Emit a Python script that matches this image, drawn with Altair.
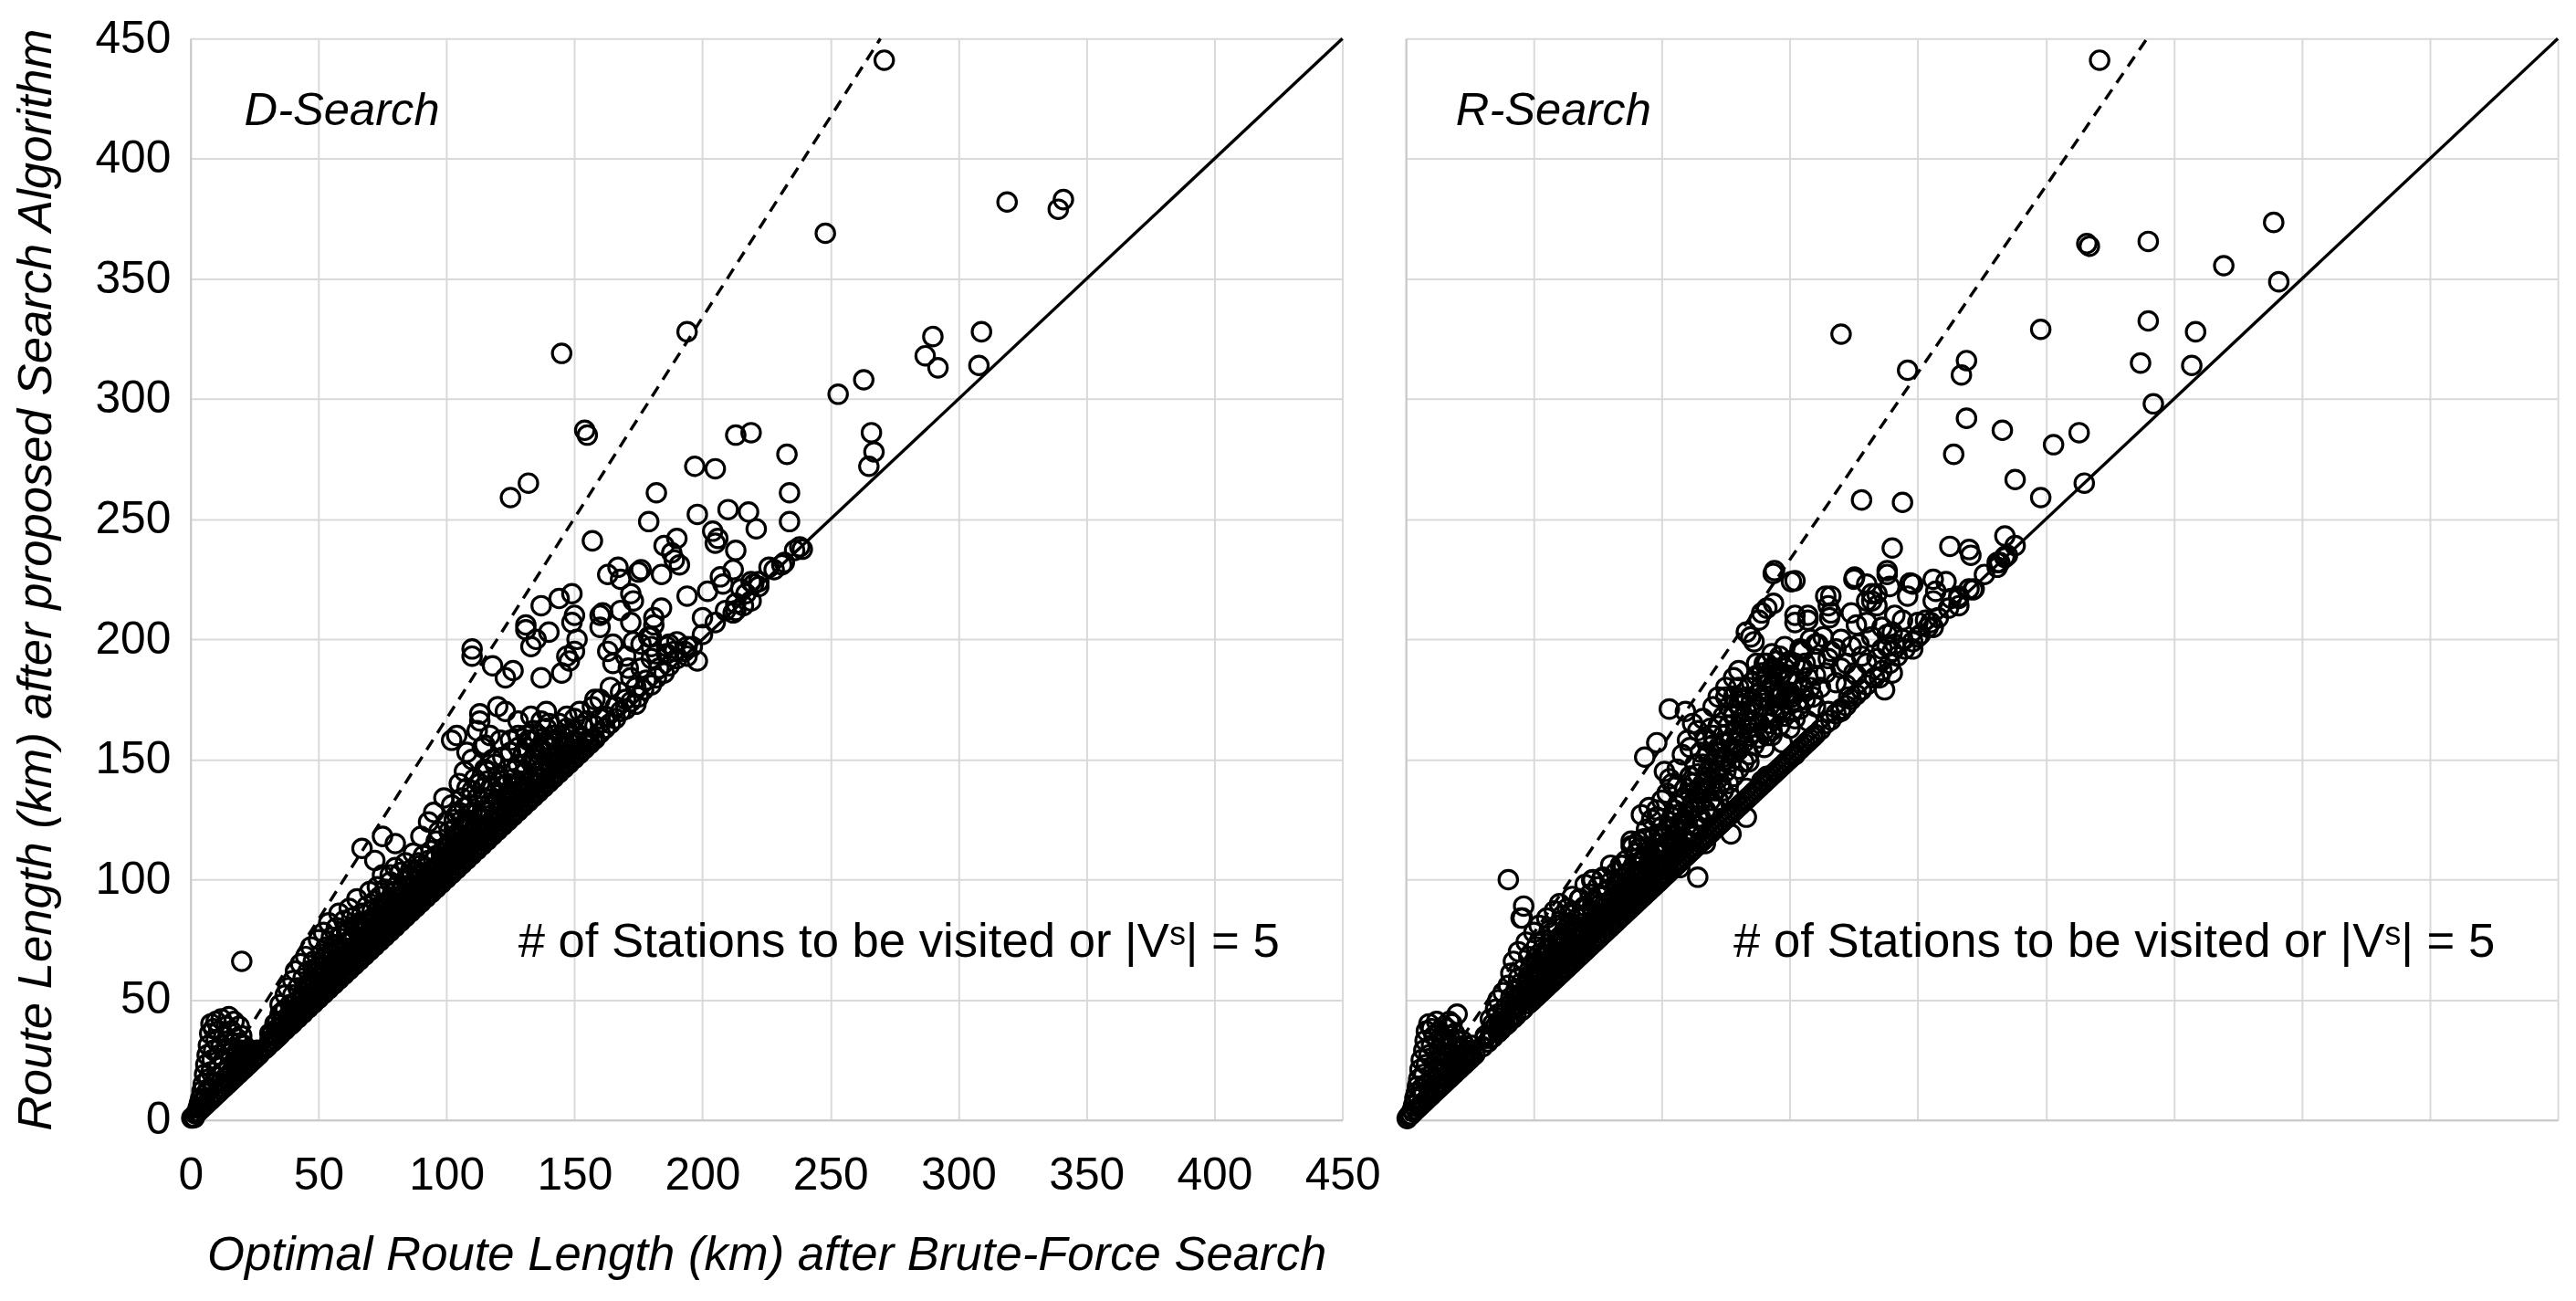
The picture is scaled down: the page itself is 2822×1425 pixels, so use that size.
import altair as alt
import pandas as pd

# ---------------- data ----------------
tick_values = [0, 50, 100, 150, 200, 250, 300, 350, 400, 450]

# D-Search panel: (optimal length, proposed length)
d_points = [
    # cluster near origin
    (0.5,0.8),(1,1.2),(1.5,1.0),(2,2.5),(2.5,3),(3,3.5),(3,5),(3.5,7),(4,4.5),(4,9),(4.5,12),(5,5.5),(5,8),(5,15),
    (5.5,19),(6,6.5),(6,11),(6,23),(6.5,27),(7,7.5),(7,13),(7,17),(7,31),(7.5,36),(8,8.5),(8,20),(8,40),(8.5,25),
    (9,9.5),(9,15),(9,29),(9,38),(10,10.5),(10,18),(10,33),(10,41),(11,11.5),(11,22),(11,27),(11,37),(12,12.5),
    (12,16),(12,31),(12,42),(13,13.5),(13,20),(13,25),(13,35),(14,14.5),(14,18),(14,29),(14,39),(15,15.5),(15,22),
    (15,33),(15,43),(16,16.5),(16,20),(16,26),(16,37),(17,17.5),(17,24),(17,30),(17,41),(18,18.5),(18,22),(18,28),
    (18,34),(19,19.5),(19,25),(19,32),(19,39),(20,20.5),(20,23),(20,29),(20,35),(21,21.5),(21,26),(21,31),(22,22.5),
    (22,25),(22,29),(23,23.5),(23,27),(24,24.5),(24,28),(25,25.5),(26,26.5),(26,29),(27,27.5),(20,66),(29,29.5),
    (31,32),(33,33.5),
    # main mass 30-100
    (30,30.5),(31,33),(32,32.5),(32,36),(33,40),(34,34.5),(34,38),(35,35.5),(35,44),(35,48),(36,37),(36,41),
    (37,37.5),(37,46),(37,52),(38,39),(38,43),(38,55),(39,39.5),(39,48),(40,40.5),(40,44),(40,52),(40,58),(41,42),
    (41,62),(42,42.5),(42,47),(42,55),(43,44),(43,50),(43,65),(44,44.5),(44,53),(44,59),(45,46),(45,49),(45,68),
    (46,46.5),(46,56),(46,62),(47,48),(47,52),(47,72),(48,48.5),(48,58),(48,66),(49,50),(49,54),(49,61),(50,50.5),
    (50,56),(50,64),(50,75),(51,52),(51,59),(51,69),(52,52.5),(52,62),(52,78),(53,54),(53,57),(53,66),(53,72),
    (54,54.5),(54,60),(54,82),(55,56),(55,64),(55,69),(55,76),(56,56.5),(56,61),(56,73),(57,58),(57,67),(57,80),
    (58,58.5),(58,63),(58,71),(58,86),(59,60),(59,66),(59,77),(60,60.5),(60,65),(60,70),(60,83),(61,62),(61,68),
    (61,74),(62,62.5),(62,66),(62,79),(62,88),(63,64),(63,71),(63,84),(64,64.5),(64,69),(64,76),(65,66),(65,73),
    (65,81),(65,92),(66,66.5),(66,70),(66,78),(67,68),(67,75),(67,86),(67,113),(68,68.5),(68,72),(68,80),(69,70),
    (69,77),(69,89),(70,70.5),(70,74),(70,83),(70,95),(71,72),(71,79),(71,87),(72,72.5),(72,76),(72,91),(72,108),
    (73,74),(73,81),(73,97),(74,74.5),(74,85),(74,93),(75,76),(75,79),(75,88),(75,102),(75,118),(76,76.5),(76,83),
    (76,96),(77,78),(77,86),(77,91),(78,78.5),(78,81),(78,99),(78,102),(79,80),(79,89),(79,95),(80,80.5),(80,84),
    (80,92),(80,105),(80,115),(81,82),(81,87),(81,98),(82,82.5),(82,90),(82,95),(82,103),(83,84),(83,86),(83,93),
    (84,84.5),(84,89),(84,100),(84,107),(85,86),(85,92),(85,97),(86,86.5),(86,90),(86,104),(87,88),(87,95),
    (87,111),(88,88.5),(88,93),(88,100),(89,90),(89,97),(89,107),(90,90.5),(90,94),(90,102),(90,118),(91,92),
    (91,99),(91,110),(92,92.5),(92,97),(92,105),(93,94),(93,101),(93,124),(94,94.5),(94,99),(94,112),(95,96),
    (95,103),(95,108),(95,128),(96,96.5),(96,101),(96,116),(97,98),(97,106),(97,120),(98,98.5),(98,103),(98,111),
    (99,100),(99,109),(99,134),(100,100.5),(100,105),(100,114),(100,124),
    # extra fill of the dense band
    (31,36),(33,35),(34,41),(36,39),(36,45),(38,41),(39,44),(41,45),(41,49),(43,47),(44,50),(45,55),(46,52),
    (47,55),(48,52),(48,62),(49,57),(50,60),(51,55),(51,64),(52,57),(52,67),(53,61),(54,57),(54,66),(55,61),
    (56,64),(56,69),(57,61),(57,71),(58,67),(59,63),(59,72),(60,68),(61,65),(61,78),(62,70),(63,67),(63,75),
    (64,72),(64,80),(65,70),(66,74),(66,82),(67,71),(67,79),(68,76),(69,73),(69,82),(70,78),(71,75),(71,84),
    (72,80),(73,77),(73,87),(74,79),(74,89),(75,83),(76,80),(76,90),(77,82),(78,85),(78,92),(79,83),(80,88),
    (81,85),(81,93),(82,87),(83,89),(83,97),(84,87),(85,89),(85,101),(86,93),(86,98),(87,91),(88,96),(88,104),
    (89,93),(90,98),(90,106),(91,95),(92,101),(93,97),(93,108),(94,103),(95,99),(96,105),(96,110),(97,101),
    (98,107),(99,104),(99,113),(100,109),(101,106),(102,111),(103,108),(103,118),(104,113),(105,109),(106,115),
    (107,111),(107,121),(108,117),(109,114),(110,119),(111,116),(112,122),(113,119),(114,125),(115,120),(116,128),
    (117,122),(118,131),(119,124),(120,133),(121,126),(122,130),(123,128),(124,133),(125,130),(126,135),(127,132),
    (128,137),(129,134),(130,139),(131,136),(132,141),(133,138),(134,143),(135,140),(136,148),(137,142),(138,146),
    (139,144),(140,149),(141,146),(142,151),(143,148),(144,152),(145,150),(146,155),(147,152),(148,157),(149,154),
    (150,158),
    (101,115),(103,121),(104,127),(106,118),(107,130),(109,124),(110,137),(112,128),(113,140),(115,134),(116,145),
    (118,138),(119,148),(121,141),(122,151),(124,140),(125,158),(127,146),(128,160),(130,144),(131,155),(133,158),
    (134,150),(136,160),(137,154),(139,163),(140,158),(142,160),(144,165),(145,156),(147,168),(148,160),(150,162),
    (152,170),(153,159),(155,166),(157,172),(158,164),(160,175),(162,168),(164,180),(166,172),(168,178),(170,175),
    (172,184),(174,180),(176,188),(178,183),(180,192),(183,188),(186,194),(190,199),
    # mass 100-160
    (101,102),(101,110),(101,120),(102,102.5),(102,107),(102,116),(102,131),(103,104),(103,112),(103,125),
    (104,104.5),(104,109),(104,119),(104,160),(105,106),(105,114),(105,128),(105,140),(106,106.5),(106,111),
    (106,122),(106,134),(107,108),(107,116),(107,145),(108,108.5),(108,113),(108,125),(108,138),(109,110),(109,119),
    (109,131),(110,110.5),(110,115),(110,128),(110,150),(110,196),(111,112),(111,122),(111,142),(112,112.5),
    (112,118),(112,134),(113,114),(113,125),(114,114.5),(114,120),(114,138),(114,155),(115,116),(115,129),
    (115,146),(116,116.5),(116,123),(116,141),(117,118),(117,132),(117,160),(118,118.5),(118,125),(118,150),
    (119,120),(119,136),(120,120.5),(120,128),(120,143),(121,122),(121,131),(122,122.5),(122,139),(123,124),
    (123,133),(124,124.5),(124,146),(125,126),(125,136),(125,153),(126,126.5),(126,142),(127,128),(127,139),
    (128,128.5),(128,148),(129,130),(129,141),(130,130.5),(130,152),(131,132),(131,145),(132,132.5),(132,158),
    (133,134),(133,149),(134,134.5),(134,162),(135,136),(135,153),(136,136.5),(136,145),(137,138),(138,138.5),
    (138,157),(139,140),(139,150),(140,140.5),(141,142),(141,155),(142,142.5),(143,144),(143,158),(144,144.5),
    (145,146),(145,160),(146,146.5),(147,148),(147,163),(148,148.5),(149,150),(150,150.5),(151,152),(152,152.5),
    (153,154),(154,154.5),(155,156),(156,156.5),(157,158),(158,158.5),
    # chain along the diagonal 160-240
    (160,161),(162,163),(164,165),(166,167),(168,170),(170,171),(172,174),(175,176),(177,179),(180,181),(182,184),
    (185,186),(187,189),(190,192),(193,195),(196,197),(200,202),(205,207),(209,212),(213,215),(217,219),(222,224),
    (226,230),(228,229),(236,237),
    # scattered upper points
    (271,441),(248,369),(319,382),(341,383),(339,379),(194,328),(145,319),(290,326),(287,318),(292,313),(309,328),
    (308,314),(263,308),(253,302),(266,286),(267,278),(265,272),(154,287),(155,285),(213,285),(219,286),(233,277),
    (197,272),(205,271),(125,259),(132,265),(182,261),(234,261),(234,249),(210,254),(218,253),(221,246),(198,252),
    (179,249),(238,238.5),(157,241),(185,239),(190,242),(204,245),(206,242),(205,240),(213,237),(212,229),(231,231),
    (188,236),(189,233),(191,231),(184,227),(175,228),(167,230),(168,225),(163,227),(207,226),(222,222),(219,224),
    (215,221),(202,220),(172,219),(173,216),(194,218),(149,219),(144,217),(137,214),(150,210),(160,210),(168,212),
    (172,207),(181,209),(181,206),(184,213),(200,209),(131,206),(131,204),(135,200),(140,203),(149,207),(151,200),
    (165,198),(173,199),(180,197),(187,198),(194,197),(213,212),(216,214),(219,216),(110,193),(113,169),(118,189),
    (123,184),(126,187),(133,197),(137,184),(145,186),(148,191),(150,195),(147,193),(176,229),(161,211),(180,201),
    (182,194),(186,197),(189,195),(208,223),(212,211),(220,223),(232,232),(239,237.5),(160,205),(163,195),
    (165,190),(170,193),(171,188),(176,198),(179,201),(194,193),(198,191),(158,175),(160,167),(170,171),(174,173),
    (150,167),(153,164),(113,166),(120,172),(123,170),(128,166),(133,168),(137,166),(139,170),(140,165),(102,158),
    (108,153),(112,162),(115,156),(121,158),(128,155),(131,160),(136,154),(140,156),(146,157),(155,158),
]

# R-Search panel
r_points = [
    # cluster near origin
    (0.5,0.6),(1,1.5),(1.5,2),(2,2.2),(2.5,4),(3,3.3),(3,6),(3.5,9),(4,4.4),(4,11),(4.5,14),(5,5.3),(5,9),(5,17),
    (5.5,21),(6,6.4),(6,13),(6,25),(7,7.3),(7,11),(7,19),(7,29),(7.5,33),(8,8.4),(8,15),(8,23),(8,37),(9,9.4),
    (9,13),(9,27),(9,40),(10,10.4),(10,17),(10,31),(10,38),(11,11.4),(11,21),(11,35),(12,12.4),(12,15),(12,25),
    (12,41),(13,13.4),(13,19),(13,29),(13,37),(14,14.4),(14,23),(14,33),(15,15.4),(15,18),(15,27),(15,39),
    (16,16.4),(16,22),(16,31),(16,38),(17,17.4),(17,20),(17,27),(17,35),(17,41),(18,18.4),(18,24),(18,31),(18,40),
    (19,19.4),(19,23),(19,29),(19,36),(20,20.4),(20,26),(20,33),(20,44),(21,21.4),(21,24),(21,30),(22,22.4),
    (22,27),(22,33),(23,23.4),(23,26),(23,31),(24,24.4),(24,29),(25,25.4),(25,28),(26,26.4),(26,31),(27,27.4),
    (30,30.5),(32,32.5),
    # main mass 30-100
    (31,34),(32,32.4),(33,37),(33,42),(34,34.4),(35,39),(35,46),(36,36.4),(36,50),(37,41),(37,37.4),(38,44),
    (38,53),(39,39.4),(39,47),(40,40.4),(40,56),(40,100),(41,43),(41,51),(41,61),(42,42.4),(42,46),(42,66),
    (43,43.4),(43,54),(44,48),(44,59),(44,70),(45,45.4),(45,52),(45,84),(46,89),(46,46.4),(46,63),(47,50),(47,57),
    (47,74),(48,48.4),(48,55),(48,68),(49,49.4),(49,61),(50,50.4),(50,53),(50,65),(50,78),(51,51.4),(51,58),
    (51,72),(52,52.4),(52,61),(52,81),(53,53.4),(53,56),(53,68),(54,54.4),(54,64),(54,75),(55,55.4),(55,59),
    (55,71),(55,84),(56,56.4),(56,67),(56,79),(57,57.4),(57,62),(57,74),(58,58.4),(58,70),(58,87),(59,59.4),
    (59,64),(59,81),(60,60.4),(60,67),(60,76),(60,90),(61,61.4),(61,72),(61,85),(62,62.4),(62,65),(62,79),
    (63,63.4),(63,69),(63,88),(64,64.4),(64,74),(64,82),(65,65.4),(65,68),(65,77),(65,93),(66,66.4),(66,72),
    (66,86),(67,67.4),(67,80),(68,68.4),(68,71),(68,92),(69,69.4),(69,76),(69,84),(70,70.4),(70,74),(70,89),
    (70,98),(71,71.4),(71,81),(72,72.4),(72,77),(72,94),(73,73.4),(73,86),(73,100),(74,74.4),(74,79),(74,91),
    (75,75.4),(75,83),(75,97),(76,76.4),(76,88),(77,77.4),(77,80),(77,101),(78,78.4),(78,85),(78,95),(79,79.4),
    (79,90),(80,80.4),(80,83),(80,99),(80,106),(81,81.4),(81,88),(82,82.4),(82,93),(82,103),(83,83.4),(83,86),
    (83,98),(84,84.4),(84,91),(84,106),(85,85.4),(85,96),(85,101),(86,86.4),(86,89),(86,108),(87,87.4),(87,94),
    (87,103),(88,88.4),(88,99),(88,114),(89,89.4),(89,92),(89,106),(90,90.4),(90,97),(90,111),(91,91.4),(91,102),
    (91,116),(92,92.4),(92,95),(92,108),(93,93.4),(93,100),(93,117),(94,94.4),(94,105),(94,121),(95,95.4),(95,98),
    (95,112),(96,96.4),(96,103),(96,125),(97,97.4),(97,108),(97,118),(98,98.4),(98,101),(98,129),(99,99.4),
    (99,106),(99,115),(100,100.4),(100,111),(100,122),(100,133),
    # extra fill of the dense band
    (31,35),(33,34),(34,40),(36,38),(36,44),(38,40),(39,45),(41,46),(42,50),(43,48),(44,52),(45,57),(46,53),
    (47,54),(48,51),(48,60),(49,56),(50,59),(51,54),(51,65),(52,58),(52,69),(53,62),(54,58),(54,68),(55,63),
    (56,62),(56,71),(57,66),(57,78),(58,64),(59,70),(59,75),(60,63),(61,69),(61,77),(62,73),(63,66),(63,78),
    (64,70),(64,86),(65,73),(66,76),(66,80),(67,70),(67,84),(68,75),(69,79),(69,88),(70,77),(71,76),(71,86),
    (72,82),(73,78),(73,91),(74,84),(75,80),(75,89),(76,82),(76,93),(77,85),(78,90),(79,84),(79,96),(80,87),
    (81,92),(82,86),(82,98),(83,91),(84,88),(84,96),(85,92),(86,95),(86,102),(87,90),(88,93),(88,104),(89,97),
    (90,94),(90,103),(91,97),(92,101),(93,96),(93,109),(94,99),(95,104),(96,100),(96,110),(97,103),(98,108),
    (99,102),(99,112),(100,106),(101,111),(102,106),(103,116),(104,109),(105,118),(106,112),(107,121),(108,114),
    (109,125),(110,116),(111,129),(112,118),(113,133),(114,121),(115,137),(116,124),(117,141),(118,127),(119,146),
    (120,130),(121,150),(122,133),(123,153),(124,137),(125,157),(126,140),(127,158),(128,143),(129,162),(130,146),
    (131,165),(132,149),(133,170),(134,152),(135,174),(136,156),(137,177),(138,159),(139,181),(140,162),(141,184),
    (142,165),(143,188),(144,168),(145,191),(146,171),(147,186),(148,175),(149,190),(150,178),
    (95,107),(97,113),(99,119),(101,114),(102,121),(104,126),(105,122),(106,131),(108,128),(109,134),(110,123),
    (111,136),(112,140),(113,130),(114,144),(115,132),(116,148),(117,136),(118,152),(119,139),(120,160),(121,144),
    (122,164),(123,147),(124,168),(125,150),(126,172),(127,154),(128,176),(129,157),(130,180),(131,160),(132,168),
    (133,176),(134,163),(135,182),(136,166),(137,190),(138,172),(139,186),(140,175),(141,190),(142,178),(143,194),
    (144,180),(145,176),(146,184),(147,170),(148,188),(149,178),(150,185),(151,170),(152,190),(153,174),(154,195),
    (155,180),(156,190),(157,184),(158,200),(159,176),(160,192),(162,180),(163,201),(164,186),(166,195),(168,182),
    (170,200),(172,190),(174,197),(176,185),(178,193),(180,190),(182,201),(184,192),(186,205),(188,197),(190,203),
    # mass 100-160
    (101,101.4),(101,107),(101,118),(102,102.4),(102,113),(102,136),(103,103.4),(103,109),(103,124),(104,104.4),
    (104,116),(104,140),(105,105.4),(105,111),(105,129),(106,106.4),(106,120),(106,146),(107,107.4),(107,114),
    (107,133),(108,108.4),(108,124),(108,152),(109,109.4),(109,117),(109,138),(110,110.4),(110,128),(110,158),
    (111,111.4),(111,120),(111,143),(112,112.4),(112,132),(112,165),(113,113.4),(113,123),(113,148),(114,114.4),
    (114,136),(115,115.4),(115,126),(115,153),(116,116.4),(116,140),(116,167),(117,117.4),(117,129),(117,158),
    (118,118.4),(118,145),(119,119.4),(119,133),(119,163),(120,120.4),(120,149),(120,172),(121,121.4),(121,137),
    (122,122.4),(122,155),(122,176),(123,123.4),(123,140),(124,124.4),(124,160),(125,125.4),(125,145),(125,180),
    (126,126.4),(126,164),(127,127.4),(127,149),(128,128.4),(128,169),(128,184),(129,129.4),(129,153),(130,130.4),
    (130,160),(130,187),(131,131.4),(131,175),(132,132.4),(132,157),(133,133.4),(133,166),(134,134.4),(134,180),
    (135,135.4),(135,161),(136,136.4),(136,171),(137,137.4),(137,185),(138,138.4),(138,165),(139,139.4),(139,176),
    (140,140.4),(140,155),(140,190),(141,141.4),(141,168),(142,142.4),(142,182),(143,143.4),(143,160),(144,144.4),
    (144,172),(145,145.4),(145,186),(146,146.4),(146,164),(147,147.4),(147,178),(148,148.4),(148,168),(149,149.4),
    (149,184),(150,150.4),(150,163),(151,151.4),(151,176),(152,152.4),(152,167),(153,153.4),(153,182),(154,154.4),
    (154,171),(155,155.4),(155,188),(156,156.4),(156,175),(157,157.4),(157,166),(158,158.4),(158,180),(159,159.4),
    (160,160.4),(160,185),
    # chain along the diagonal
    (162,162.4),(164,165),(166,166.4),(168,169),(170,171),(172,172.4),(174,175),(176,177),(178,179),(180,181),
    (183,184),(186,187),(189,190),(192,193),(195,196),(198,199),(201,202),(204,205),(208,209),(212,213),(216,217),
    (220,221),(226,227),(231,232),(234,234.5),(238,239),
    # scattered upper points
    (271,441),(339,373.5),(290,365.6),(266,364.7),(267,363.6),(319.5,355.5),(341,348.8),(170,327),(248,329),
    (290,332.5),(308.5,328),(287,315),(307,314),(219,316),(217,310),(196,312),(292,298),(219,292),(233,287),
    (263,286),(253,281),(214,277),(238,266.5),(248,259),(265,265),(178,258),(194,257),(234,243),(190,238),
    (212.5,238.7),(220,237.4),(234,234),(231,230),(221.5,220.6),(144,228.6),(152,224.4),(175,225),(188,228.6),
    (197,223.5),(206,225),(207,220),(213,217),(216,214),(180,223),(184,219),(180,216),(184,214),(189,222),
    (166,218),(166,211),(174,211),(143.6,215),(152,210),(157,210),(139,211),(176,206),(180,207),(191,210),
    (194,208),(200,207),(206,205),(203,208),(133,203),(136,199),(148,197),(154,196),(161,198),(168,196),(177,198),
    (186,196),(191,198),(194,200),(188,202),
    (45.5,84),(72.6,99.7),(76.6,100.5),(67.8,92),(83.8,106),(88.5,113.7),(93.3,116.8),(93.3,151),(98,157),
    (102.9,171),(109.2,170),(137.9,208),(141,213),(143.5,227.4),(134.7,201),(152,207),(157,208),(150.6,224),
    (165.5,209),(165,214),(164,218),(175.3,225.9),(182,216),(182,219),(188,227),(196,218),(198,223),(206,216),
    (211,224),(220.7,235),(216,218),(232,232),(235,235),(222,221),(200,201),(205,207),(190,195),(198,196),
    (144,188),(146,193),(150,191),(155,195),(160,198),(165,192),(170,188),(175,186),(172,181),(178,179),(185,184),
    (187,179),(190,186),(146,176),(150,173),(155,179),(160,172),(165,170),(170,170),(173,176),(125,176),(130,173),
    (128,168),(133,170),(138,165),(143,162),(114,162),(117,159),(111,155),(120,156),(124,151),(130,154),(134,149),
    (141,160),(147,157),(152,152),(101,145),(106,139),(103,142),(111,143),(116,137),(122,142),(127,134),(133,138),
    (139,141),(141,143),(92,127),(95,130),(98,126),(106,127),(114,126),(120,122),(127,119),(133,126),(88,116),
    (91,113),(98,112),(104,116),(111,113),(117,115),(85,106),(91,103),(94,100),(101,108),(107,105),(114,101),
]

diag_x = [0, 450]
diag_y = [0, 450]
d_dash_x = [0, 269.5]
d_dash_y = [0, 450]
r_dash_x = [0, 289.5]
r_dash_y = [0, 450]

panel_names = ["D-Search", "R-Search"]
name_x = [21, 19.5]
name_y = [414, 414]
note_text = "# of Stations to be visited or |V\u02e2| = 5"
note_x = [128, 128]
note_y = [68, 68]

x_title = "Optimal Route Length (km) after Brute-Force Search"
y_title = "Route Length (km) after proposed Search Algorithm"

FONT = "Liberation Sans"
GRID = "#d9d9d9"
W, H = 1270, 1192


def make_panel(points, dash_x, dash_y, name, nx, ny, left):
    if left:
        xaxis = alt.Axis(values=tick_values, title=x_title, titleFont=FONT, titleFontSize=53,
                         titleFontStyle="italic", titleFontWeight="normal", titleColor="black",
                         titlePadding=37, labelFont=FONT, labelFontSize=50, labelColor="black",
                         labelPadding=36, ticks=False, tickSize=0, grid=True, gridColor=GRID,
                         gridWidth=2, domainColor="#c8c8c8", domainWidth=2, labelOverlap=False,
                         labelFlush=False)
        yaxis = alt.Axis(values=tick_values, title=y_title, titleFont=FONT, titleFontSize=53,
                         titleFontStyle="italic", titleFontWeight="normal", titleColor="black",
                         titlePadding=38, labelFont=FONT, labelFontSize=50, labelColor="black",
                         labelPadding=22, ticks=False, tickSize=0, grid=True, gridColor=GRID,
                         gridWidth=2, domainColor="#c8c8c8", domainWidth=2, labelOverlap=False,
                         labelFlush=False)
    else:
        xaxis = alt.Axis(values=tick_values, title=None, labels=False, ticks=False, tickSize=0,
                         grid=True, gridColor=GRID, gridWidth=2, domainColor="#c8c8c8", domainWidth=2)
        yaxis = alt.Axis(values=tick_values, title=None, labels=False, ticks=False, tickSize=0,
                         grid=True, gridColor=GRID, gridWidth=2, domainColor="#c8c8c8", domainWidth=2)

    sx = alt.Scale(domain=[0, 450], nice=False)
    sy = alt.Scale(domain=[0, 450], nice=False)

    def X():
        return alt.X("x:Q", scale=sx, axis=xaxis)

    def Y():
        return alt.Y("y:Q", scale=sy, axis=yaxis)

    pts = pd.DataFrame(points, columns=["x", "y"])
    diag = pd.DataFrame({"x": diag_x, "y": diag_y})
    dash = pd.DataFrame({"x": dash_x, "y": dash_y})
    lab = pd.DataFrame({"x": [nx], "y": [ny], "t": [name]})
    note = pd.DataFrame({"x": [note_x[0]], "y": [note_y[0]], "t": [note_text]})

    p_layer = alt.Chart(pts).mark_point(shape="circle", filled=False, color="black", size=420,
                                        strokeWidth=3.2, opacity=1).encode(x=X(), y=Y())
    d_layer = alt.Chart(diag).mark_line(color="black", strokeWidth=3.4).encode(x=X(), y=Y())
    s_layer = alt.Chart(dash).mark_line(color="black", strokeWidth=3.4,
                                        strokeDash=[13, 9]).encode(x=X(), y=Y())
    t_layer = alt.Chart(lab).mark_text(font=FONT, fontSize=51, fontStyle="italic", align="left",
                                       baseline="alphabetic", color="black").encode(x=X(), y=Y(), text="t:N")
    n_layer = alt.Chart(note).mark_text(font=FONT, fontSize=53, align="left",
                                        baseline="alphabetic", color="black").encode(x=X(), y=Y(), text="t:N")
    return alt.layer(p_layer, s_layer, d_layer, t_layer, n_layer).properties(width=W, height=H)


left = make_panel(d_points, d_dash_x, d_dash_y, panel_names[0], name_x[0], name_y[0], True)
right = make_panel(r_points, r_dash_x, r_dash_y, panel_names[1], name_x[1], name_y[1], False)

chart = alt.hconcat(left, right, spacing=12).resolve_scale(x="independent", y="independent") \
    .configure_view(stroke=None).properties(background="white", padding=5)

chart.save("out.html", embed_options={"renderer": "svg", "actions": False})
